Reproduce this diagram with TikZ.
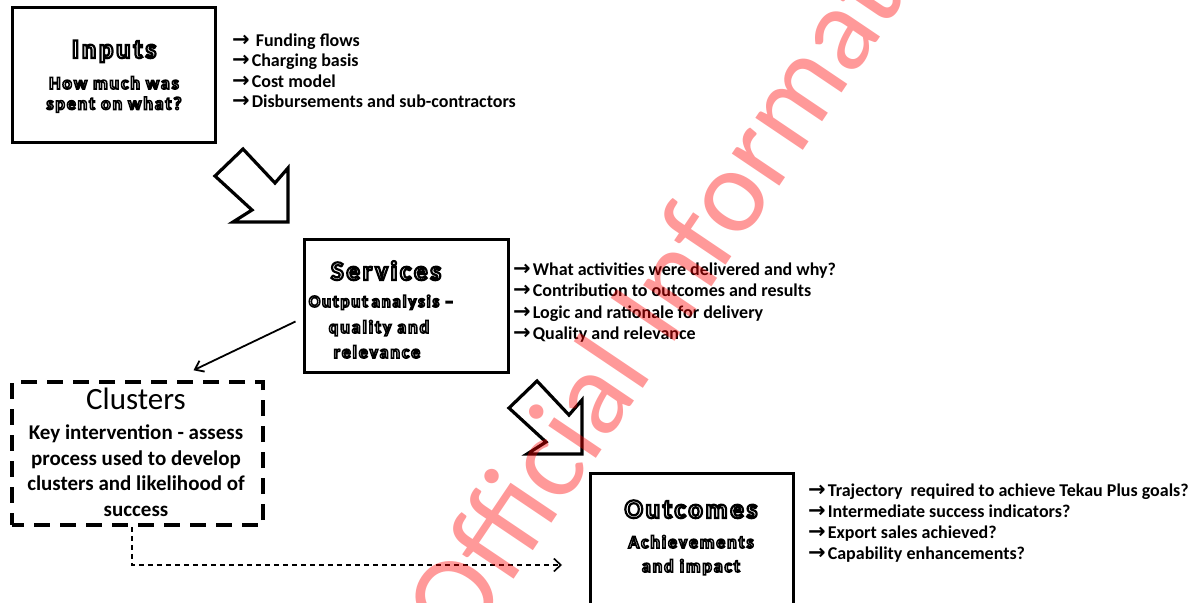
\documentclass[tikz,border=0pt]{standalone}
\usepackage{fontspec}
\setmainfont{Carlito}
\newfontfamily\olfont[LetterSpace=10]{Carlito}
\newfontfamily\arrfont{DejaVu Sans}
\usetikzlibrary{arrows.meta}
% outlined text: one copy, filled white and stroked black
\newcommand\olt[2][2]{\special{pdf:literal direct 2 Tr #1 w 1 g 0 G}#2\special{pdf:literal direct 0 Tr 0 g 0 G}}
\newcommand\bul[1]{{\arrfont\bfseries\fontsize{21}{20}\selectfont →}\kern2pt #1}
\tikzset{
  box/.style={draw, line width=3pt, inner sep=0pt},
  dbox/.style={draw, line width=3.5pt, inner sep=0pt, dash pattern=on 16pt off 10pt, dash phase=4pt},
  oltitle/.style={anchor=base, inner sep=0pt, font=\olfont\bfseries\fontsize{27}{30}\selectfont},
  olsub/.style={anchor=base, inner sep=0pt, font=\olfont\bfseries\fontsize{18}{20}\selectfont},
  bullet/.style={anchor=base west, inner sep=0pt, font=\bfseries\fontsize{18}{20}\selectfont},
  cltitle/.style={anchor=base, inner sep=0pt, font=\fontsize{31}{34}\selectfont},
  clbody/.style={anchor=base, inner sep=0pt, font=\bfseries\fontsize{21}{24}\selectfont},
  bigarrow/.pic={\draw[line width=3.2pt, line join=miter, miter limit=10]
    (-45,-73) -- (-73,-46) -- (-36,-12) -- (-55,0) -- (0,0) -- (0,-54) -- (-13,-39) -- cycle;},
  thinarrow/.style={line width=1.8pt, -{Straight Barb[length=8pt,width=12pt,line width=1.8pt]}},
  dasharrow/.style={line width=1.6pt, dash pattern=on 5pt off 4pt, -{Straight Barb[length=7pt,width=13pt,line width=1.6pt]}},
}
\begin{document}
\begin{tikzpicture}[x=1pt,y=-1pt]
\useasboundingbox (0,0) rectangle (1198,602);
\fill[white] (0,0) rectangle (1198,602);
\clip (0,0) rectangle (1198,602);

% Inputs
\node[box, minimum width=203pt, minimum height=134pt] (inputs) at (113.5,75) {};
\node[oltitle] (inputsT) at (114,58) {\olt[2.2]{Inputs}};
\node[olsub] (inputsS1) at (114,89) {\olt[1.5]{How much was}};
\node[olsub] (inputsS2) at (114,109.5) {\olt[1.5]{spent on what?}};
\node[bullet] (inB1) at (232,46) {\bul{\kern4pt Funding flows}};
\node[bullet] (inB2) at (232,66.5) {\bul{Charging basis}};
\node[bullet] (inB3) at (232,87) {\bul{Cost model}};
\node[bullet] (inB4) at (232,107.5) {\bul{Disbursements and sub-contractors}};

% block arrow 1
\pic (ba1) at (288,222) {bigarrow};

% Services
\node[box, minimum width=204pt, minimum height=133pt] (services) at (406,305.5) {};
\node[oltitle] (servicesT) at (386,280) {\olt[2.2]{Services}};
\node[olsub, font=\olfont\bfseries\fontsize{17}{20}\selectfont] (servicesS1) at (381,307) {\olt[1.5]{Output\kern-2pt\ analysis\ –}};
\node[olsub] (servicesS2) at (379,333) {\olt[1.5]{quality and}};
\node[olsub] (servicesS3) at (377,358) {\olt[1.5]{relevance}};
\node[bullet] (svB1) at (513,275) {\bul{What activities were delivered and why?}};
\node[bullet] (svB2) at (513,296.5) {\bul{Contribution to outcomes and results}};
\node[bullet] (svB3) at (513,318) {\bul{Logic and rationale for delivery}};
\node[bullet] (svB4) at (513,339) {\bul{Quality and relevance}};

% Clusters
\node[dbox, minimum width=251pt, minimum height=143pt] (clusters) at (137.5,453.5) {};
\node[cltitle] (clustersT) at (136,409) {Clusters};
\node[clbody] (clustersL1) at (136,439) {Key intervention - assess};
\node[clbody] (clustersL2) at (136,465) {process used to develop};
\node[clbody] (clustersL3) at (136,490) {clusters and likelihood of};
\node[clbody] (clustersL4) at (136,516) {success};

% block arrow 2
\pic (ba2) at (582,454) {bigarrow};

% Outcomes
\node[box, minimum width=203pt, minimum height=137pt] (outcomes) at (691.5,541.5) {};
\node[oltitle] (outcomesT) at (691,518) {\olt[2.2]{Outcomes}};
\node[olsub] (outcomesS1) at (691,548) {\olt[1.5]{Achievements}};
\node[olsub] (outcomesS2) at (691,572) {\olt[1.5]{and impact}};
\node[bullet] (ocB1) at (808,496) {\bul{Trajectory\ \ required to achieve Tekau Plus goals?}};
\node[bullet] (ocB2) at (808,517) {\bul{Intermediate success indicators?}};
\node[bullet] (ocB3) at (808,538) {\bul{Export sales achieved?}};
\node[bullet] (ocB4) at (808,559) {\bul{Capability enhancements?}};

% connectors
\draw[thinarrow] ([shift={(-7,16)}]services.west) -- ([shift={(56,-10)}]clusters.north);
\coordinate (outIn) at (562,565);
\draw[dasharrow] ([shift={(-5.5,0)}]clusters.south) |- (outIn);

% watermark
\node[rotate=56, anchor=base west, inner sep=0pt, text=red, opacity=0.4,
      font=\fontsize{120}{120}\selectfont] (watermark) at (464,654) {Official Information};
\end{tikzpicture}
\end{document}
